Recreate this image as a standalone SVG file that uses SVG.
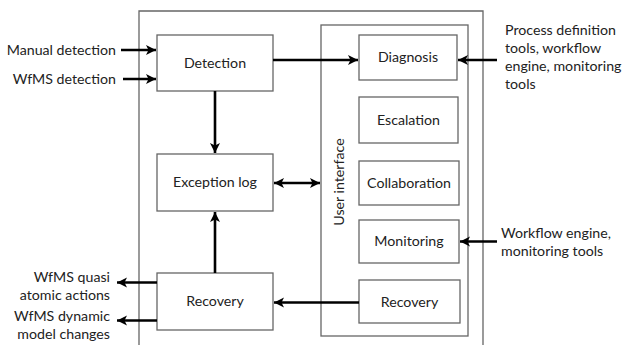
<svg xmlns="http://www.w3.org/2000/svg" width="622" height="345" viewBox="0 0 622 345">
<defs>
<style>
.box{fill:#fff;stroke:#666;stroke-width:1.3}
.frame{fill:none;stroke:#666;stroke-width:1.3}
.t{font-family:Lato,"Open Sans",sans-serif;font-size:14.2px;fill:#222}
.c{text-anchor:middle}
.r{text-anchor:end}
.e{stroke:#000;stroke-width:2.6;fill:none}
</style>
<marker id="ah" markerWidth="11" markerHeight="11" refX="10" refY="5.5" orient="auto-start-reverse" markerUnits="userSpaceOnUse">
<path d="M0,0.5 L10,5.5 L0,10.5 L2.5,5.5 Z" fill="#000"/>
</marker>
</defs>
<rect width="622" height="345" fill="#fff"/>
<g id="system"><path class="frame" d="M139,350 V11 H483 V350"/></g>
<g id="ui"><rect class="frame" x="321" y="25" width="147" height="311"/>
<text class="t c" transform="translate(344,182) rotate(-90)">User interface</text></g>
<g id="detection"><rect class="box" x="157" y="35" width="116" height="56"/><text class="t c" x="215" y="68">Detection</text></g>
<g id="exception-log"><rect class="box" x="157" y="154" width="116" height="57"/><text class="t c" x="215" y="187">Exception log</text></g>
<g id="recovery-left"><rect class="box" x="157" y="273" width="116" height="57"/><text class="t c" x="215" y="306">Recovery</text></g>
<g id="diagnosis"><rect class="box" x="359" y="35" width="98" height="45"/><text class="t c" x="408" y="62">Diagnosis</text></g>
<g id="escalation"><rect class="box" x="359" y="97" width="99" height="46"/><text class="t c" x="408.5" y="125">Escalation</text></g>
<g id="collaboration"><rect class="box" x="359" y="161" width="100" height="44"/><text class="t c" x="409" y="188">Collaboration</text></g>
<g id="monitoring"><rect class="box" x="359" y="220" width="100" height="43"/><text class="t c" x="409" y="246">Monitoring</text></g>
<g id="recovery-ui"><rect class="box" x="359" y="280" width="101" height="43"/><text class="t c" x="409.5" y="307">Recovery</text></g>
<g id="labels">
<text class="t r" x="116" y="55">Manual detection</text>
<text class="t r" x="116" y="84">WfMS detection</text>
<text class="t r" x="110" y="282">WfMS quasi</text>
<text class="t r" x="110" y="300">atomic actions</text>
<text class="t r" x="110" y="321">WfMS dynamic</text>
<text class="t r" x="110" y="339">model changes</text>
<text class="t" x="505" y="35">Process definition</text>
<text class="t" x="505" y="53">tools, workflow</text>
<text class="t" x="505" y="71">engine, monitoring</text>
<text class="t" x="505" y="89">tools</text>
<text class="t" x="501" y="238">Workflow engine,</text>
<text class="t" x="501" y="256">monitoring tools</text>
</g>
<g id="connectors">
<line class="e" x1="121" y1="50" x2="156" y2="50" marker-end="url(#ah)"/>
<line class="e" x1="123" y1="79" x2="156" y2="79" marker-end="url(#ah)"/>
<line class="e" x1="273" y1="60" x2="358" y2="60" marker-end="url(#ah)"/>
<line class="e" x1="215" y1="91" x2="215" y2="153" marker-end="url(#ah)"/>
<line class="e" x1="274" y1="183" x2="320" y2="183" marker-start="url(#ah)" marker-end="url(#ah)"/>
<line class="e" x1="215" y1="273" x2="215" y2="212" marker-end="url(#ah)"/>
<line class="e" x1="359" y1="302.5" x2="274" y2="302.5" marker-end="url(#ah)"/>
<line class="e" x1="157" y1="282.5" x2="117" y2="282.5" marker-end="url(#ah)"/>
<line class="e" x1="157" y1="320.5" x2="117" y2="320.5" marker-end="url(#ah)"/>
<line class="e" x1="497" y1="60" x2="458" y2="60" marker-end="url(#ah)"/>
<line class="e" x1="497" y1="241.5" x2="460" y2="241.5" marker-end="url(#ah)"/>
</g>
</svg>
